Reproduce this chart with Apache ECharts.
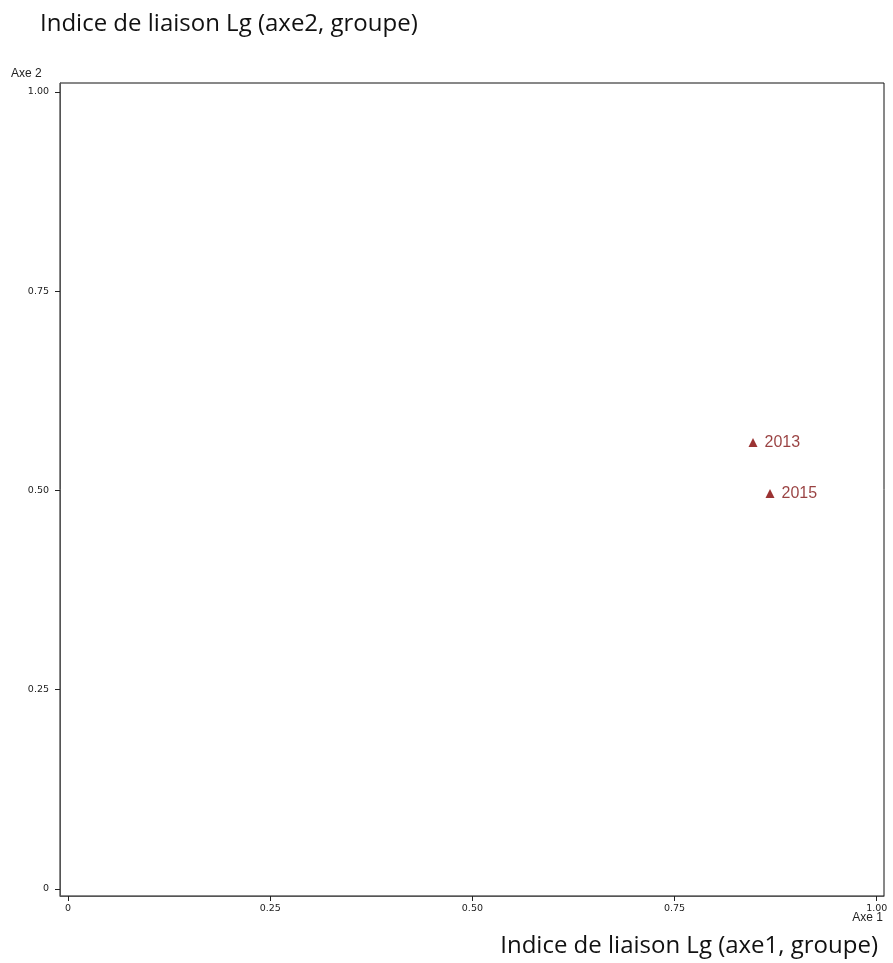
<!DOCTYPE html>
<html>
<head>
<meta charset="utf-8">
<script src="https://cdn.jsdelivr.net/npm/echarts@6/dist/echarts.min.js"></script>
<style>
html,body{margin:0;padding:0;background:#fff;}
#chart{width:893px;height:963px;}
</style>
</head>
<body>
<div id="chart"></div>
<script>
// Data
const pointNames = ['2013', '2015'];
const axe1Values = [0.847, 0.868];
const axe2Values = [0.560, 0.496];
const tickValues = [0, 0.25, 0.5, 0.75, 1];
const tickLabels = ['0', '0.25', '0.50', '0.75', '1.00'];
const titleTop = 'Indice de liaison Lg (axe2, groupe)';
const titleBottom = 'Indice de liaison Lg (axe1, groupe)';

const chart = echarts.init(document.getElementById('chart'), null, {renderer: 'canvas'});
const fmt = v => {
  const i = tickValues.findIndex(t => Math.abs(t - v) < 1e-9);
  return i >= 0 ? tickLabels[i] : '';
};
const tickFont = {fontFamily: 'DejaVu Sans', fontSize: 9.5, color: '#222'};

chart.setOption({
  animation: false,
  backgroundColor: '#fff',
  title: [
    {text: titleTop, left: 35, top: 7, textStyle: {fontFamily: 'Open Sans', fontSize: 24, fontWeight: 'normal', color: '#111'}},
    {text: titleBottom, right: 10, top: 929, textStyle: {fontFamily: 'Open Sans', fontSize: 24, fontWeight: 'normal', color: '#111'}},
    {text: 'Axe 2', left: 6, top: 63, textStyle: {fontFamily: 'Liberation Sans', fontSize: 12, fontWeight: 'normal', color: '#222'}},
    {text: 'Axe 1', right: 5, top: 907, textStyle: {fontFamily: 'Liberation Sans', fontSize: 12, fontWeight: 'normal', color: '#222'}}
  ],
  grid: {left: 60, right: 9, top: 83, bottom: 67, show: true, borderColor: '#111', borderWidth: 1, backgroundColor: '#fff', containLabel: false, outerBoundsMode: 'none'},
  xAxis: {
    type: 'value', min: -0.01, max: 1.009,
    axisLine: {show: true, onZero: false, lineStyle: {color: '#555', width: 1}},
    axisTick: {show: true, inside: false, length: 5, lineStyle: {color: '#222'}, customValues: tickValues},
    axisLabel: {show: true, margin: 8, formatter: fmt, customValues: tickValues, ...tickFont},
    splitLine: {show: false}
  },
  yAxis: {
    type: 'value', min: -0.009, max: 1.011,
    axisLine: {show: true, onZero: false, lineStyle: {color: '#555', width: 1}},
    axisTick: {show: true, inside: false, length: 5, lineStyle: {color: '#222'}, customValues: tickValues},
    axisLabel: {show: true, margin: 11, formatter: fmt, customValues: tickValues, ...tickFont},
    splitLine: {show: false}
  },
  series: [{
    type: 'scatter',
    symbol: 'triangle',
    symbolSize: 9,
    itemStyle: {color: '#820000'},
    label: {
      show: true, position: 'right', distance: 7,
      formatter: p => p.data.name,
      fontFamily: 'Liberation Sans', fontSize: 16, color: '#7f1212'
    },
    data: pointNames.map((n, i) => ({name: n, value: [axe1Values[i], axe2Values[i]]}))
  }]
});
</script>
</body>
</html>
